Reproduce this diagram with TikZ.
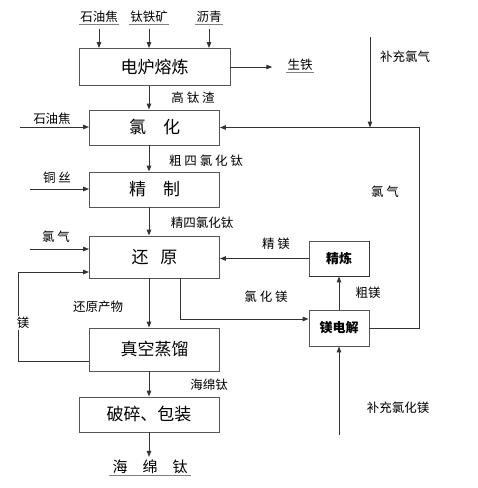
\documentclass[tikz,border=0pt]{standalone}
\usepackage{fontspec}
\setmainfont{Noto Sans CJK SC}
\usetikzlibrary{arrows.meta,positioning}
\definecolor{flowline}{HTML}{333333}
\definecolor{boxline}{HTML}{555555}

\begin{document}
\begin{tikzpicture}[x=1pt,y=-1pt,
    proc/.style={draw=boxline,line width=0.9pt,fill=white,inner sep=0pt,minimum width=130pt,minimum height=35pt,font=\fontsize{17}{20}\selectfont},
    cell/.style={draw=boxline,line width=0.9pt,fill=white,inner sep=0pt,minimum width=60pt,minimum height=35pt,font=\fontsize{13}{15}\selectfont\bfseries},
    tag/.style={inner sep=1pt,font=\fontsize{12.5}{14}\selectfont},
    feed/.style={inner sep=1pt,font=\fontsize{12.5}{14}\selectfont},
    flow/.style={draw=flowline,line width=1pt,-{Triangle[length=6pt,width=4.5pt]}},
    wire/.style={draw=flowline,line width=1pt}]
  \useasboundingbox (0,0) rectangle (478,488);
  \coordinate (spine) at (149,0);

  % main process column
  \node[proc,minimum width=151pt,minimum height=37pt] (furnace) at (154.5,67) {电炉熔炼};
  \node[proc] (chlor) at (154.5,127.5) {氯\hspace{1em}化};
  \node[proc] (purify) at (154.5,189.5) {精\hspace{1em}制};
  \node[proc,minimum height=42pt] (reduce) at (154.5,257) {还\hspace{0.7em}原};
  \node[proc,minimum height=43pt] (vacuum) at (154.5,349.5) {真空蒸馏};
  \node[proc,minimum width=140pt] (crush) at (149,414.5) {破碎、包装};
  \node[font=\fontsize{15}{18}\selectfont,inner sep=1pt] (sponge) at (150,467) {海\hspace{15pt}绵\hspace{15pt}钛};
  \draw[gray,line width=1pt] ([xshift=-2pt]sponge.south west) -- ([xshift=2pt]sponge.south east);

  % magnesium side
  \node[cell] (mgrefine) at (339,258.5) {精炼};
  \draw[draw=flowline,line width=1.4pt] (mgrefine.north east) -- (mgrefine.south east) -- (mgrefine.south west);
  \node[cell,minimum height=36pt] (electro) at (339,328) {镁电解};

  % raw materials
  \node[feed] (coke) at (99,17) {石油焦};
  \node[feed] (ilmenite) at (149,17) {钛铁矿};
  \node[feed] (pitch) at (209,17) {沥青};
  \foreach \n in {coke,ilmenite,pitch}{
    \draw[gray,line width=0.8pt] (\n.south west) -- (\n.south east);
    \draw[flow] ([yshift=-5pt]\n.south) -- (furnace.north -| \n.south);
  }
  \node[feed] (pigiron) at (300,65) {生铁};
  \draw[gray,line width=0.8pt] (pigiron.south west) -- (pigiron.south east);
  \draw[flow,shorten >=14pt] (furnace.east) -- (pigiron.west |- furnace.east);

  % main flow
  \draw[flow] (furnace.south -| spine) -- (chlor.north -| spine);
  \node[tag] (slag) at (193,98) {高 钛 渣};
  \draw[flow] (chlor.south -| spine) -- (purify.north -| spine);
  \node[tag] (crude) at (206,161) {粗 四 氯 化 钛};
  \draw[flow] (purify.south -| spine) -- (reduce.north -| spine);
  \node[tag] (pure) at (202,223) {精四氯化钛};
  \draw[flow] (reduce.south -| spine) -- (vacuum.north -| spine);
  \node[tag] (product) at (98,307) {还原产物};
  \draw[flow] (vacuum.south -| spine) -- (crush.north);
  \node[tag] (spongetag) at (209,385) {海绵钛};
  \draw[flow,shorten >=2pt] (crush.south) -- (sponge.north -| crush.south);

  % side feeds
  \coordinate (cokein) at (20,127);
  \node[tag] (coke2) at (52,119) {石油焦};
  \draw[flow] (cokein) -- (cokein -| chlor.west);
  \coordinate (cuin) at (30,189);
  \node[tag] (copper) at (57,178) {铜 丝};
  \draw[flow] (cuin) -- (cuin -| purify.west);
  \coordinate (clin) at (30,249);
  \node[tag] (chlorine) at (56,237) {氯 气};
  \draw[flow] (clin) -- (clin -| reduce.west);

  % magnesium recycle
  \draw[flow] ([yshift=-12pt]vacuum.west) -- ++(-71,0) |- ([yshift=-15pt]reduce.west);
  \node[tag,fill=white] (mg) at (23,323) {镁};
  \draw[flow] ([xshift=25.5pt]reduce.south) |- ([yshift=9pt]electro.west);
  \node[tag] (mgcl) at (266,297) {氯 化 镁};
  \draw[flow] (mgrefine.west) -- (reduce.east |- mgrefine.west);
  \node[tag] (puremg) at (276,244) {精 镁};
  \draw[flow] (electro.north) -- (mgrefine.south);
  \node[tag] (crudemg) at (368,293) {粗镁};
  \coordinate (mgclin) at (339,435);
  \draw[flow] (mgclin) -- (electro.south);
  \node[tag] (mgcladd) at (398,408) {补充氯化镁};

  % chlorine recycle
  \draw[flow] (electro.east) -- ++(50,0) |- (chlor.east);
  \node[tag] (chlorgas) at (385,192) {氯 气};
  \coordinate (cladd) at (370,37);
  \draw[flow] (cladd) -- (cladd |- chlor.east);
  \node[tag] (claddtag) at (405,57) {补充氯气};
\end{tikzpicture}
\end{document}
